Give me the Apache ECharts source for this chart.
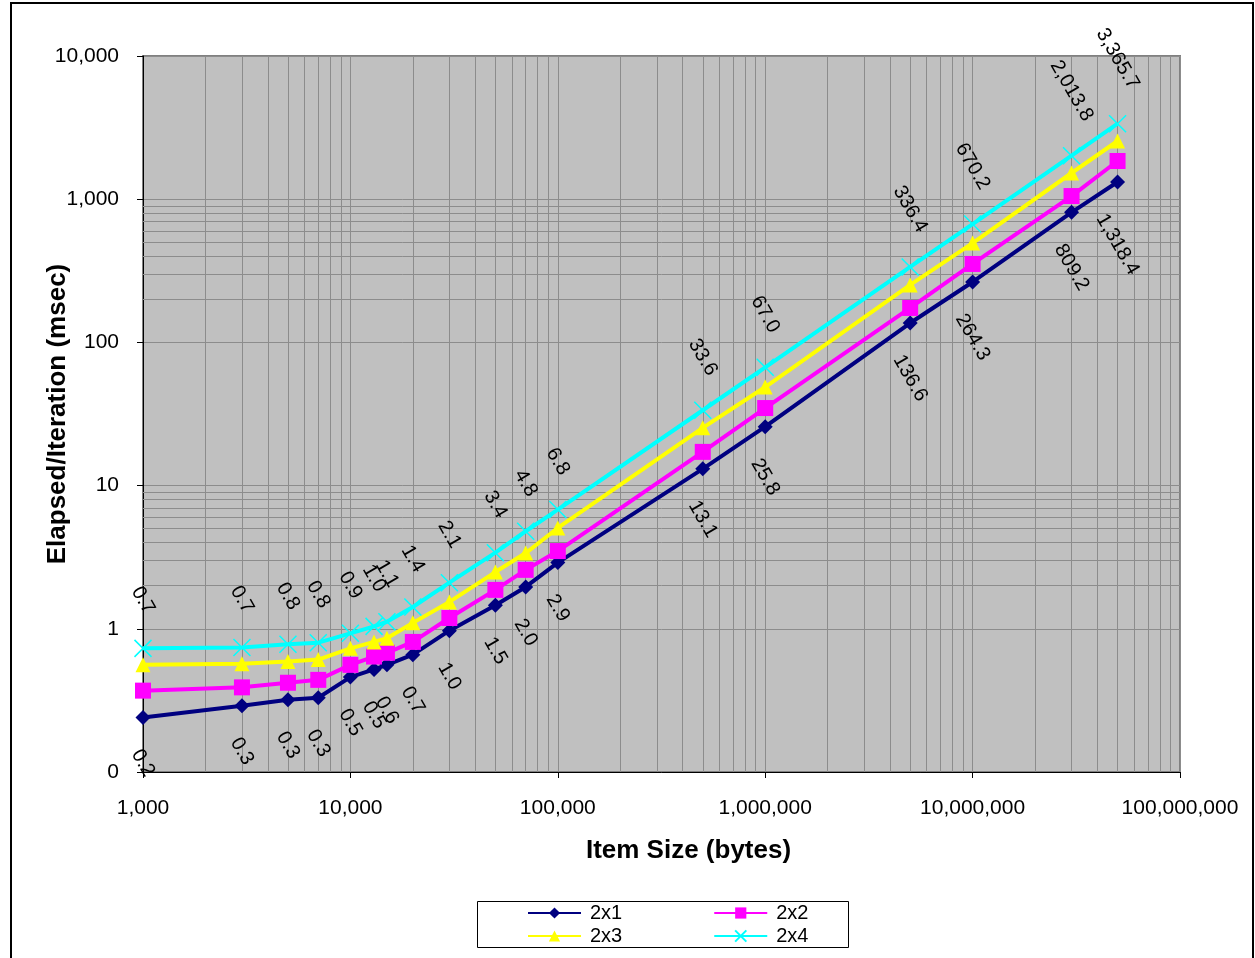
<!DOCTYPE html>
<html>
<head>
<meta charset="utf-8">
<script src="https://cdn.jsdelivr.net/npm/echarts@6/dist/echarts.min.js"></script>
<style>
  html, body { margin: 0; padding: 0; background: #ffffff; }
  #chart { width: 1255px; height: 958px; }
</style>
</head>
<body>
<div id="chart"></div>
<script>
// Item sizes (bytes) measured
const xValues = [1000, 3000, 5000, 7000, 10000, 13000, 15000, 20000, 30000, 50000,
  70000, 100000, 500000, 1000000, 5000000, 10000000, 30000000, 50000000];

// Elapsed time per iteration (msec) for each configuration
const s2x1 = [0.24, 0.29, 0.32, 0.33, 0.46, 0.52, 0.56, 0.66, 0.97, 1.46, 1.96, 2.9,
  13.1, 25.8, 136.6, 264.3, 809.2, 1318.4];
const s2x2 = [0.37, 0.39, 0.42, 0.44, 0.56, 0.64, 0.68, 0.81, 1.19, 1.87, 2.58, 3.49,
  17.2, 34.8, 174, 353, 1052, 1849];
const s2x3 = [0.56, 0.57, 0.59, 0.61, 0.73, 0.81, 0.86, 1.10, 1.54, 2.49, 3.38, 5.06,
  25.3, 48.8, 252, 494, 1524, 2549];
const s2x4 = [0.73, 0.74, 0.78, 0.80, 0.93, 1.04, 1.12, 1.42, 2.1, 3.4, 4.8, 6.8,
  33.6, 67.0, 336.4, 670.2, 2013.8, 3365.7];

const seriesNames = ['2x1', '2x2', '2x3', '2x4'];

// Minor gridlines: every decade on x; on y only the decades 1–10 and 100–1,000
const xMinorDecades = [3, 4, 5, 6, 7];
const yMinorDecades = [0, 2];
const xMinor = [];
xMinorDecades.forEach(e => { for (let k = 2; k <= 9; k++) xMinor.push(k * Math.pow(10, e)); });
const yMinor = [];
yMinorDecades.forEach(e => { for (let k = 2; k <= 9; k++) yMinor.push(k * Math.pow(10, e)); });

const FONT = '"Liberation Sans", Arial, Helvetica, sans-serif';
const LABEL_SIZE = 20;

const fmt1 = v => v.toLocaleString('en-US', { minimumFractionDigits: 1, maximumFractionDigits: 1 });
const fmt0 = v => Math.round(v).toLocaleString('en-US');

// Measure label text so rotated labels sit clear of their markers
const ctx = document.createElement('canvas').getContext('2d');
ctx.font = LABEL_SIZE + 'px ' + FONT;
function labelDistance(v, symbolHalf) {
  const w = ctx.measureText(fmt1(v)).width;
  const h = 0.866 * w + 0.5 * 14;
  return 30 + h / 2 - symbolHalf;
}

function pairs(ys) { return xValues.map((x, i) => [x, ys[i]]); }
function labelled(ys, symbolHalf) {
  return xValues.map((x, i) => ({ value: [x, ys[i]], label: { distance: labelDistance(ys[i], symbolHalf) } }));
}

const labelBase = {
  show: true,
  rotate: -60,
  align: 'center',
  verticalAlign: 'middle',
  color: '#000000',
  fontFamily: FONT,
  fontSize: LABEL_SIZE,
  formatter: p => fmt1(p.value[1])
};

const chart = echarts.init(document.getElementById('chart'), null, { renderer: 'canvas' });

chart.setOption({
  animation: false,
  backgroundColor: '#ffffff',
  textStyle: { fontFamily: FONT },
  grid: {
    left: 143, right: 75, top: 56, bottom: 186,
    show: true,
    backgroundColor: '#C0C0C0',
    borderColor: '#808080',
    borderWidth: 2
  },
  xAxis: {
    type: 'log',
    logBase: 10,
    min: 1000,
    max: 100000000,
    splitNumber: 5,
    name: 'Item Size (bytes)',
    nameLocation: 'middle',
    nameGap: 66,
    nameMoveOverlap: false,
    nameTextStyle: { fontSize: 26, fontWeight: 'bold', color: '#000', fontFamily: FONT, padding: [0, 0, 0, 54] },
    axisLine: { lineStyle: { color: '#000', width: 1 } },
    axisTick: { show: true, length: 6, lineStyle: { color: '#000' } },
    axisLabel: { margin: 26, fontSize: 21, color: '#000', fontFamily: FONT, formatter: fmt0 },
    splitLine: { show: true, lineStyle: { color: '#8c8c8c', width: 1 } }
  },
  yAxis: {
    type: 'log',
    logBase: 10,
    min: 0.1,
    max: 10000,
    splitNumber: 5,
    name: 'Elapsed/Iteration (msec)',
    nameLocation: 'middle',
    nameGap: 72,
    nameRotate: 90,
    nameMoveOverlap: false,
    nameTextStyle: { fontSize: 26, fontWeight: 'bold', color: '#000', fontFamily: FONT },
    axisLine: { show: true, lineStyle: { color: '#000', width: 1 } },
    axisTick: { show: true, length: 6, lineStyle: { color: '#000' } },
    axisLabel: { margin: 24, fontSize: 21, color: '#000', fontFamily: FONT, formatter: fmt0 },
    splitLine: { show: true, lineStyle: { color: '#8c8c8c', width: 1 } }
  },
  legend: [
    {
      data: ['2x1', '2x2'],
      left: 527, top: 903,
      orient: 'horizontal',
      padding: 0,
      itemWidth: 53, itemHeight: 14, itemGap: 91,
      textStyle: { fontSize: 20, color: '#000', fontFamily: FONT, padding: [0, 0, 0, 4] }
    },
    {
      data: ['2x3', '2x4'],
      left: 527, top: 926,
      orient: 'horizontal',
      padding: 0,
      itemWidth: 53, itemHeight: 14, itemGap: 91,
      textStyle: { fontSize: 20, color: '#000', fontFamily: FONT, padding: [0, 0, 0, 4] }
    }
  ],
  graphic: [
    {
      type: 'rect', z: -10, silent: true,
      shape: { x: 11, y: 3, width: 1242, height: 980 },
      style: { fill: 'none', stroke: '#000', lineWidth: 2 }
    },
    {
      type: 'rect', z: 0, silent: true,
      shape: { x: 477.5, y: 901.5, width: 371, height: 46 },
      style: { fill: '#ffffff', stroke: '#000', lineWidth: 1 }
    }
  ],
  series: [
    {
      // minor gridlines
      type: 'line',
      data: [],
      silent: true,
      z: 1,
      markLine: {
        z: 1,
        silent: true,
        animation: false,
        symbol: ['none', 'none'],
        label: { show: false },
        lineStyle: { color: '#8c8c8c', width: 1, type: 'solid' },
        emphasis: { disabled: true },
        data: xMinor.map(v => ({ xAxis: v })).concat(yMinor.map(v => ({ yAxis: v })))
      }
    },
    {
      name: seriesNames[0],
      type: 'line',
      z: 3,
      data: labelled(s2x1, 7.5),
      symbol: 'diamond',
      symbolSize: 15,
      lineStyle: { color: '#000080', width: 4 },
      itemStyle: { color: '#000080', borderWidth: 0 },
      label: Object.assign({ position: 'bottom' }, labelBase)
    },
    {
      name: seriesNames[1],
      type: 'line',
      z: 4,
      data: pairs(s2x2),
      symbol: 'rect',
      symbolSize: 16,
      lineStyle: { color: '#FF00FF', width: 4 },
      itemStyle: { color: '#FF00FF', borderWidth: 0 }
    },
    {
      name: seriesNames[2],
      type: 'line',
      z: 5,
      data: pairs(s2x3),
      symbol: 'triangle',
      symbolSize: 15,
      lineStyle: { color: '#FFFF00', width: 4 },
      itemStyle: { color: '#FFFF00', borderWidth: 0 }
    },
    {
      name: seriesNames[3],
      type: 'line',
      z: 6,
      data: labelled(s2x4, 8.5),
      symbol: 'path://M0,0L10,10M10,0L0,10',
      symbolSize: 17,
      lineStyle: { color: '#00FFFF', width: 4 },
      itemStyle: { color: 'none', borderColor: '#00FFFF', borderWidth: 1.5 },
      label: Object.assign({ position: 'top' }, labelBase)
    }
  ]
});
</script>
</body>
</html>
